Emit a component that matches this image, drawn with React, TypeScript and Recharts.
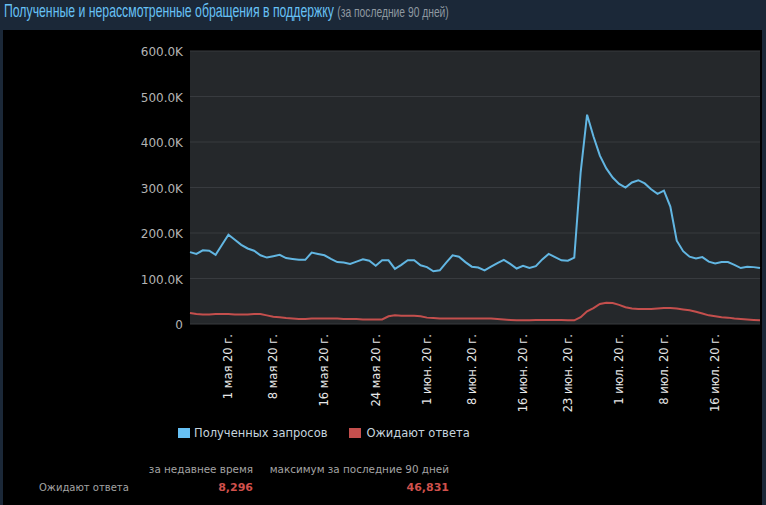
import { LineChart, Line, XAxis, YAxis, CartesianGrid } from 'recharts'

// daily values, thousands, 25 Apr .. 23 Jul 2020
const received = [
  158, 154, 162, 161, 152, 174, 196, 185, 174, 166,
  161, 151, 146, 149, 152, 145, 143, 141, 141, 157,
  154, 151, 143, 136, 135, 132, 137, 142, 139, 128,
  140, 140, 121, 130, 140, 140, 129, 125, 116, 118,
  135, 151, 148, 136, 126, 124, 118, 126, 134, 141,
  132, 122, 128, 123, 127, 142, 154, 147, 140, 139,
  146, 334, 460, 412, 370, 342, 322, 308, 300, 311,
  316, 309, 296, 286, 293, 258, 183, 160, 148, 144,
  147, 137, 133, 136, 136, 130, 123, 126, 125, 123,
]
const pending = [
  24, 22, 21, 21, 22, 22, 22, 21, 21, 21,
  22, 22, 19, 16, 15, 13, 12, 11, 11, 12,
  12, 12, 12, 12, 11, 11, 11, 10, 10, 10,
  10, 17, 19, 18, 18, 18, 17, 14, 13, 12,
  12, 12, 12, 12, 12, 12, 12, 12, 11, 10,
  9, 8, 8, 8, 9, 9, 9, 9, 9, 8,
  8, 15, 28, 35, 44, 46.831, 46, 42, 37, 34,
  33, 33, 33, 34, 35, 35, 34, 32, 30, 27,
  23, 19, 17, 15, 14, 12, 11, 10, 9, 8.296,
]

const tickDays = [6, 13, 21, 29, 37, 44, 52, 59, 67, 74, 82]
const tickLabels = [
  '1 мая 20 г.', '8 мая 20 г.', '16 мая 20 г.', '24 мая 20 г.',
  '1 июн. 20 г.', '8 июн. 20 г.', '16 июн. 20 г.', '23 июн. 20 г.',
  '1 июл. 20 г.', '8 июл. 20 г.', '16 июл. 20 г.',
]
const yTicks = [0, 100000, 200000, 300000, 400000, 500000, 600000]

const data = received.map((v, i) => ({ day: i, received: v * 1000, pending: pending[i] * 1000 }))

const BLUE = '#62b6e2'
const RED = '#c44f4d'

const fmtY = (v: number) => (v === 0 ? '0' : `${(v / 1000).toFixed(1)}K`)

const DateTick = ({ x, y, payload }: any) => {
  const label = tickLabels[tickDays.indexOf(payload.value)]
  return (
    <text
      x={x}
      y={y}
      transform={`rotate(-90 ${x} ${y})`}
      textAnchor="end"
      dominantBaseline="central"
      fill="#e8e8e8"
      fontSize={11.5}
      fontFamily="DejaVu Sans"
    >
      {label}
    </text>
  )
}

const maxPending = Math.max(...pending) * 1000
const lastPending = pending[pending.length - 1] * 1000

export default function App() {
  return (
    <div style={{ position: 'fixed', left: 0, top: 0, width: 766, height: 505, background: '#1b2838', overflow: 'hidden', fontFamily: 'DejaVu Sans' }}>
      <div style={{ position: 'absolute', left: 4, top: -2, whiteSpace: 'nowrap', lineHeight: '26px', fontFamily: 'Liberation Sans, Arial, sans-serif' }}>
        <span style={{ display: 'inline-block', transform: 'scaleX(0.663)', transformOrigin: 'left center', color: '#67c1f5', fontSize: 18.5 }}>
          Полученные и нерассмотренные обращения в поддержку{' '}
          <span style={{ color: '#8f98a0', fontSize: 15.5 }}>(за последние 90 дней)</span>
        </span>
      </div>

      <div style={{ position: 'absolute', left: 3, top: 30, width: 759, height: 475, background: '#000' }} />

      <div style={{ position: 'absolute', left: 0, top: 0 }}>
        <LineChart width={766} height={420} data={data} margin={{ top: 51, right: 6, bottom: 0, left: 0 }}>
          <CartesianGrid vertical={false} stroke="#383b3f" fill="#25282b" />
          <XAxis
            dataKey="day"
            type="number"
            domain={[0, 89]}
            ticks={tickDays}
            interval={0}
            height={96}
            axisLine={false}
            tickLine={false}
            tickSize={0}
            tickMargin={10}
            tick={<DateTick />}
          />
          <YAxis
            width={190}
            domain={[0, 600000]}
            ticks={yTicks}
            tickFormatter={fmtY}
            axisLine={false}
            tickLine={false}
            tickSize={5}
            tickMargin={2}
            tick={{ fill: '#b4b4b4', fontSize: 12, fontFamily: 'DejaVu Sans', dy: 1 }}
          />
          <Line type="linear" dataKey="received" stroke={BLUE} strokeWidth={2} dot={false} isAnimationActive={false} />
          <Line type="linear" dataKey="pending" stroke={RED} strokeWidth={2} dot={false} isAnimationActive={false} />
        </LineChart>
      </div>

      <div style={{ position: 'absolute', left: 178, top: 426, display: 'flex', alignItems: 'center', fontSize: 11.5, color: '#c6d4df', whiteSpace: 'nowrap' }}>
        <span style={{ width: 12, height: 10, background: '#66c0f4', display: 'inline-block', marginRight: 4 }} />
        <span>Полученных запросов</span>
        <span style={{ width: 12, height: 10, background: RED, display: 'inline-block', marginLeft: 22, marginRight: 5 }} />
        <span>Ожидают ответа</span>
      </div>

      <div style={{ position: 'absolute', left: 0, top: 463, width: 766, fontSize: 10.4, color: '#a4a4a4', whiteSpace: 'nowrap' }}>
        <div style={{ position: 'absolute', right: 766 - 253, top: 0 }}>за недавнее время</div>
        <div style={{ position: 'absolute', right: 766 - 449, top: 0 }}>максимум за последние 90 дней</div>
        <div style={{ position: 'absolute', left: 39, top: 19, fontSize: 10 }}>Ожидают ответа</div>
        <div style={{ position: 'absolute', right: 766 - 253, top: 18, fontSize: 11, color: '#d0504c', fontWeight: 'bold' }}>{lastPending.toLocaleString('en-US')}</div>
        <div style={{ position: 'absolute', right: 766 - 449, top: 18, fontSize: 11, color: '#d0504c', fontWeight: 'bold' }}>{maxPending.toLocaleString('en-US')}</div>
      </div>
    </div>
  )
}
